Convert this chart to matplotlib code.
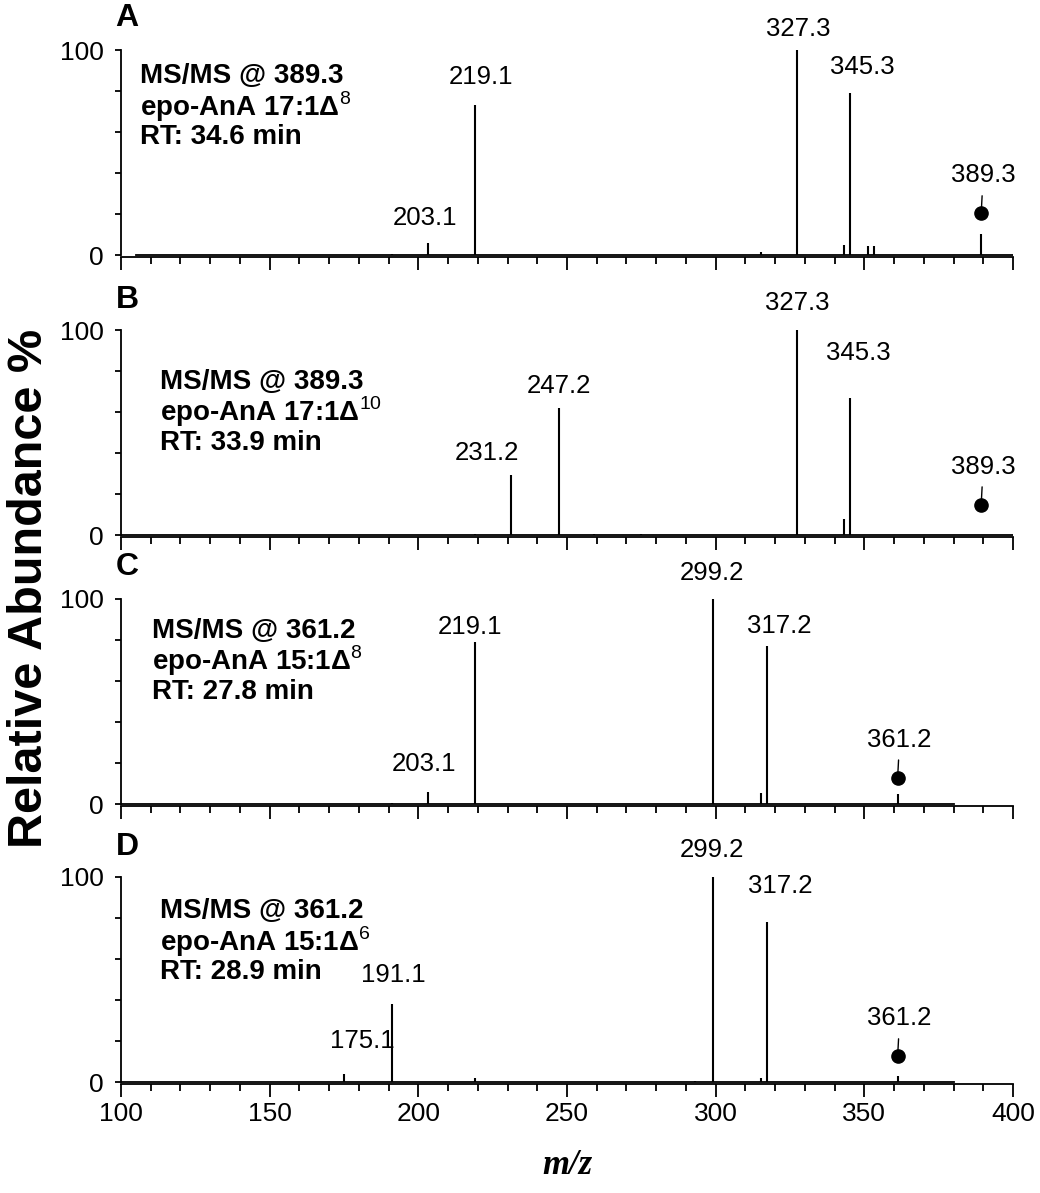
import numpy as np
import matplotlib
matplotlib.use("Agg")
import matplotlib.pyplot as plt
from matplotlib.ticker import MultipleLocator, FixedLocator

plt.rcParams['font.family'] = ['Liberation Sans', 'DejaVu Sans']
plt.rcParams['mathtext.fontset'] = 'custom'
plt.rcParams['mathtext.rm'] = 'Liberation Sans'
plt.rcParams['mathtext.bf'] = 'Liberation Sans:bold'

# ---- data (m/z, relative abundance %) ----
panel_names = ['A', 'B', 'C', 'D']

mz_a = [191.1, 203.1, 219.1, 315.2, 327.3, 343.3, 345.3, 351.2, 353.2, 389.3]
int_a = [0.5, 6, 73, 1.5, 100, 5, 79, 4.5, 4.5, 10.5]
mz_b = [204.0, 219.0, 231.2, 247.2, 259.0, 275.0, 305.5, 317.0, 321.0, 327.3, 343.3, 345.3, 353.0]
int_b = [0.4, 0.5, 29.5, 62, 0.5, 0.5, 0.4, 0.4, 0.4, 100, 8, 67, 0.4]
mz_c = [191.1, 203.1, 219.1, 273.5, 287.0, 299.2, 315.2, 317.2, 325.7, 342.0, 361.2]
int_c = [0.5, 6, 79, 0.4, 0.4, 100, 5.5, 77, 0.4, 0.4, 5]
mz_d = [175.1, 191.1, 219.1, 293.2, 299.2, 315.2, 317.2, 361.2]
int_d = [4, 38, 2, 0.8, 100, 2, 78, 3]

scan_range = [(105, 400), (100, 400), (100, 380), (100, 380)]

labels_a = ['203.1', '219.1', '327.3', '345.3']
labels_b = ['231.2', '247.2', '327.3', '345.3']
labels_c = ['203.1', '219.1', '299.2', '317.2']
labels_d = ['175.1', '191.1', '299.2', '317.2']

precursor = ['389.3', '389.3', '361.2', '361.2']
precursor_mark = [20.4, 15, 13, 12.6]

info_lines = [
    ['MS/MS @ 389.3', r'epo-AnA 17:1Δ$^{\mathrm{8}}$', 'RT: 34.6 min'],
    ['MS/MS @ 389.3', r'epo-AnA 17:1Δ$^{\mathrm{10}}$', 'RT: 33.9 min'],
    ['MS/MS @ 361.2', r'epo-AnA 15:1Δ$^{\mathrm{8}}$', 'RT: 27.8 min'],
    ['MS/MS @ 361.2', r'epo-AnA 15:1Δ$^{\mathrm{6}}$', 'RT: 28.9 min'],
]

# label offsets in pixels (dx, dy) from peak top
label_offsets = [
    [(-3, 25), (6, 28), (1, 21), (12, 26)],
    [(-24, 22), (0, 22), (0, 27), (8, 45)],
    [(-4, 28), (-5, 15), (-1, 26), (12, 20)],
    [(18, 33), (1, 29), (-1, 27), (13, 36)],
]
info_pos = [(106.4, 87.4), (113.1, 74.8), (110.4, 84.5), (113.1, 83.5)]

peaks = [(mz_a, int_a), (mz_b, int_b), (mz_c, int_c), (mz_d, int_d)]
labels = [labels_a, labels_b, labels_c, labels_d]

W, H = 1040, 1193
fig = plt.figure(figsize=(W / 100, H / 100), dpi=100)

ax_bottoms_px = [257, 537, 806, 1084]
ax_h = 207 / H
left, width = 121 / W, 892 / W
px = 0.72  # points per pixel
fs_lab = 18.5

for i in range(4):
    ax = fig.add_axes([left, 1 - ax_bottoms_px[i] / H, width, ax_h])
    mz, inten = peaks[i]
    lo, hi = scan_range[i]
    ax.plot([lo, hi], [0, 0], color='black', lw=1.3, zorder=3)
    ax.vlines(mz, 0, inten, color='black', lw=1.5, zorder=3)

    # peak labels
    for lab, (dx, dy) in zip(labels[i], label_offsets[i]):
        m = float(lab)
        k = int(np.argmin(np.abs(np.array(mz) - m)))
        ax.annotate(lab, xy=(mz[k], inten[k]), xytext=(dx * px, dy * px),
                    textcoords='offset points', ha='center', va='center',
                    fontsize=fs_lab)

    # precursor marker
    pm = float(precursor[i])
    ax.plot([pm], [precursor_mark[i]], 'o', color='black', ms=9.5, zorder=4)
    ax.annotate(precursor[i], xy=(pm, precursor_mark[i]), xytext=(2 * px, 38 * px),
                textcoords='offset points', ha='center', va='center', fontsize=fs_lab,
                arrowprops=dict(arrowstyle='-', color='black', lw=1.0,
                                shrinkA=4, shrinkB=4))

    # info text
    x0, y0 = info_pos[i]
    for j, line in enumerate(info_lines[i]):
        ax.text(x0, y0 - j * 14.8, line, fontsize=20, fontweight='bold',
                ha='left', va='center')

    ax.set_xlim(100, 400)
    ax.set_ylim(-0.8, 100)
    for s in ['top', 'right']:
        ax.spines[s].set_visible(False)
    ax.spines['left'].set_bounds(0, 100)
    ax.spines['left'].set_linewidth(1.3)
    ax.spines['bottom'].set_linewidth(1.3)

    ax.xaxis.set_major_locator(MultipleLocator(50))
    ax.xaxis.set_minor_locator(MultipleLocator(10))
    ax.tick_params(axis='x', which='major', direction='out', length=9, width=1.3)
    ax.tick_params(axis='x', which='minor', direction='out', length=5, width=1.3)
    ax.yaxis.set_major_locator(FixedLocator([0, 100]))
    ax.yaxis.set_minor_locator(FixedLocator([20, 40, 60, 80]))
    ax.tick_params(axis='y', which='both', direction='out', length=4.5, width=1.3,
                   labelsize=19, pad=8)
    if i < 3:
        ax.tick_params(axis='x', labelbottom=False)
    else:
        ax.tick_params(axis='x', labelsize=19, pad=4)

    fig.text(127 / W, 1 - [18, 300, 567, 847][i] / H, panel_names[i],
             fontsize=23, fontweight='bold', ha='center', va='center')

fig.text(30 / W, 1 - 588 / H, 'Relative Abundance %', rotation=90, fontsize=35,
         fontweight='bold', ha='center', va='center')
fig.text(567 / W, 1 - 1165 / H, 'm/z', fontsize=25, fontweight='bold',
         fontstyle='italic', family='Liberation Serif', ha='center', va='center')

fig.savefig('out.png', dpi=100)
